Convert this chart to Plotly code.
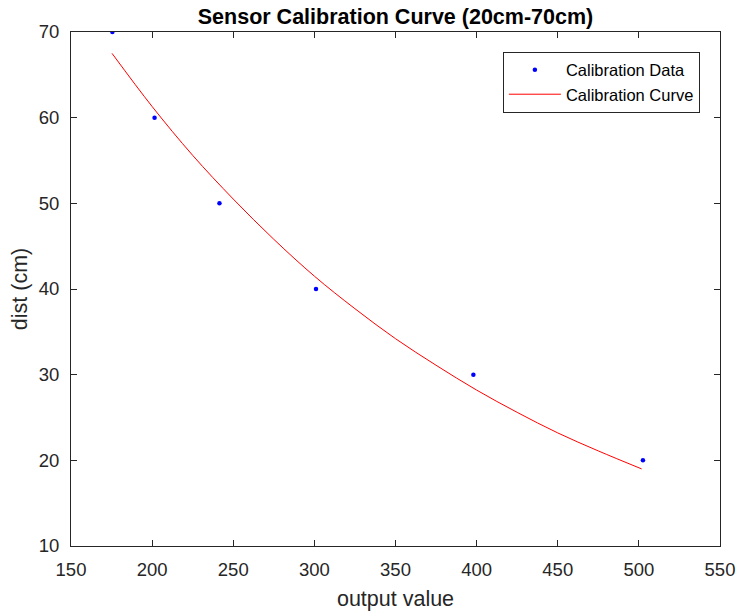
import plotly.graph_objects as go

# Calibration data
data_x = [175.5, 201.5, 241.5, 301, 398, 502.5]
data_y = [70, 60, 50, 40, 30, 20]

# Calibration curve samples
curve_x = [175.3, 200, 225, 250, 275, 300, 325, 350, 375, 400, 425, 450, 475, 501.7]
curve_y = [67.5, 61.3, 55.6, 50.5, 45.8, 41.5, 37.7, 34.2, 31.1, 28.2, 25.6, 23.2, 21.1, 19.0]

x_ticks = [150, 200, 250, 300, 350, 400, 450, 500, 550]
y_ticks = [10, 20, 30, 40, 50, 60, 70]

FONT = "Arial, Liberation Sans, sans-serif"
AX = "#262626"

fig = go.Figure()
fig.add_trace(go.Scatter(x=data_x, y=data_y, mode="markers", name="Calibration Data",
                         marker=dict(color="#0000ff", size=4.5)))
fig.add_trace(go.Scatter(x=curve_x, y=curve_y, mode="lines", name="Calibration Curve",
                         line=dict(color="#ff0000", width=1, shape="spline")))

axis_common = dict(showline=True, linecolor=AX, linewidth=1, mirror="ticks",
                   ticks="inside", ticklen=6, tickcolor=AX, showgrid=False, zeroline=False,
                   automargin=False,
                   tickfont=dict(family=FONT, size=18.5, color=AX))

fig.update_layout(
    width=740, height=615,
    margin=dict(l=71, r=20, t=32, b=69),
    paper_bgcolor="white", plot_bgcolor="white",
    font=dict(family=FONT, color=AX),
    title=dict(text="<b>Sensor Calibration Curve (20cm-70cm)</b>", x=(395.5) / 740, xanchor="center",
               y=1 - 16 / 615, yanchor="middle", yref="container", automargin=False,
               font=dict(family=FONT, size=21.5, color="black")),
    xaxis=dict(range=[150, 550], tickvals=x_ticks, ticklabelstandoff=7, **axis_common,
               title=dict(text="output value", font=dict(family=FONT, size=21.5, color=AX), standoff=11)),
    yaxis=dict(range=[10, 70], tickvals=y_ticks, ticklabelstandoff=7, **axis_common,
               title=dict(text="dist (cm)", font=dict(family=FONT, size=21.5, color=AX), standoff=5)),
    legend=dict(x=0.969, y=0.962, xanchor="right", yanchor="top",
                bordercolor=AX, borderwidth=1, bgcolor="white",
                font=dict(family=FONT, size=16.5, color="black"),
                tracegroupgap=0, itemwidth=52),
    showlegend=True,
)

fig.write_html("out.html", config={"displayModeBar": False},
               post_script="document.body.style.margin='0';document.body.style.overflow='hidden';")
